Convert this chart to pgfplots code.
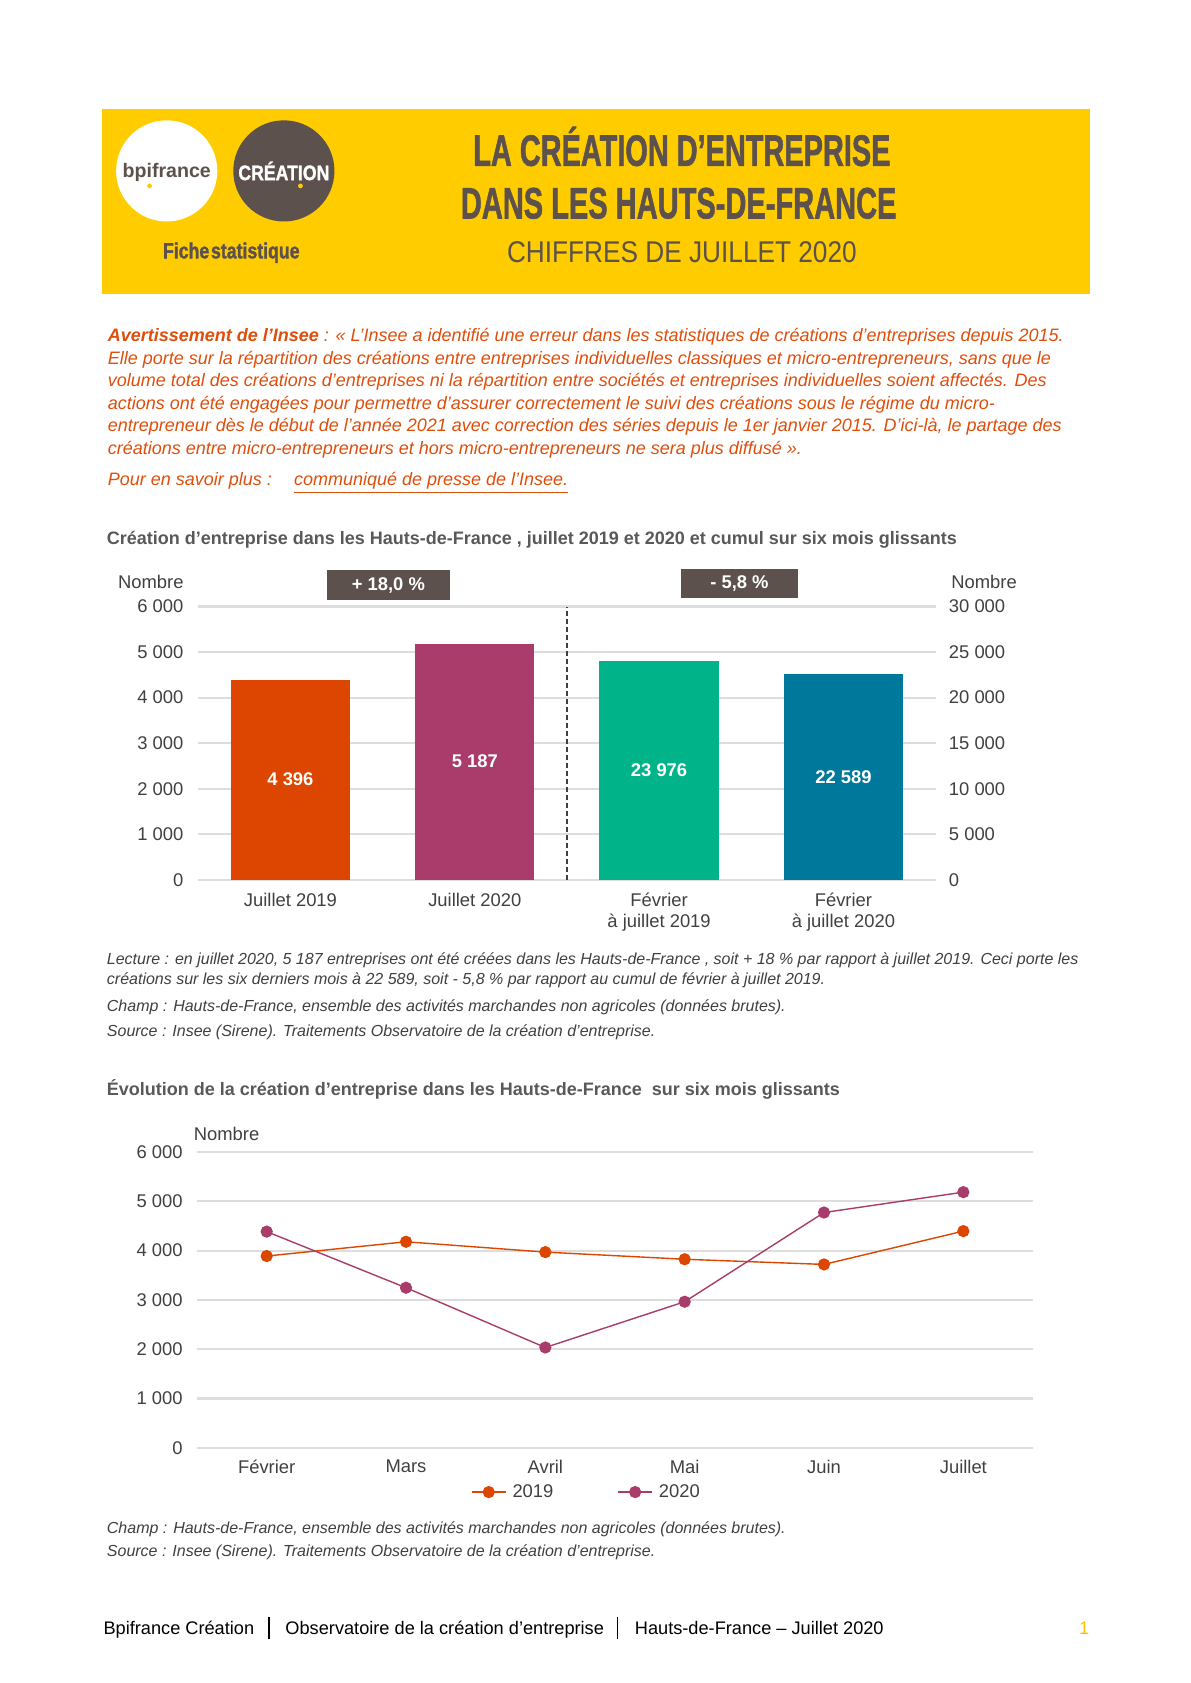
\documentclass[border=0pt]{standalone}
\usepackage{fontspec}
\setmainfont{Liberation Sans}
\newfontfamily\heavy{Liberation Sans}[FakeBold=1.5]
\usepackage{graphicx}
\usepackage{pgfplots}
\pgfplotsset{compat=1.18}

\definecolor{jaune}{HTML}{FFCC00}
\definecolor{brun}{HTML}{5C514D}
\definecolor{avert}{HTML}{E04E0B}
\definecolor{titre}{HTML}{595959}
\definecolor{texte}{HTML}{404040}
\definecolor{grille}{HTML}{DDDDDD}
\definecolor{orangeb}{HTML}{DC4600}
\definecolor{prune}{HTML}{A93C6A}
\definecolor{vert}{HTML}{00B388}
\definecolor{bleu}{HTML}{00789C}
\definecolor{un}{HTML}{FFC000}

\newcommand\fs[2]{\fontsize{#1}{#2}\selectfont}

% common look of the two charts
\pgfplotsset{
  fiche/.style={
    scale only axis,
    axis line style={draw=none},
    tick style={draw=none},
    ymajorgrids,
    grid style={grille, line width=1.1pt},
    ticklabel style={text=texte, font=\fs{9.2}{10.8}, inner sep=0pt},
    scaled y ticks=false,
    clip=false,
  },
}

\begin{document}
\begin{tikzpicture}
\path[use as bounding box, fill=white] (0,0) rectangle (595.3pt,-841.9pt);

% ---- banner
\fill[jaune] (51.1pt,-54.3pt) rectangle (545pt,-146.9pt);
\fill[white] (83.4pt,-85.5pt) circle (25.3pt);
\fill[brun] (142pt,-85.5pt) circle (25.3pt);
\node[text=brun, inner sep=0] at (83.4pt,-86.5pt) {\fs{9.8}{9.8}\bfseries bpifrance};
\fill[jaune] (74.8pt,-93pt) circle (1.2pt);
\node[text=white, inner sep=0] at (142pt,-85.5pt) {\resizebox{45.5pt}{\height}{\heavy\bfseries\fs{10.5}{10.5}CRÉATION}};
\fill[jaune] (150.3pt,-93pt) circle (1.2pt);
\node[text=brun, inner sep=0] at (115.7pt,-126.4pt) {\resizebox{68.3pt}{\height}{\heavy\bfseries\fs{11}{11}Fiche\hspace{0.1em}statistique}};
\node[text=brun, inner sep=0] at (341.1pt,-73.3pt) {\resizebox{208.7pt}{\height}{\heavy\bfseries\fs{22}{22}LA CRÉATION D’ENTREPRISE}};
\node[text=brun, inner sep=0] at (339.5pt,-101.7pt) {\resizebox{217.9pt}{\height}{\heavy\bfseries\fs{22}{22}DANS LES HAUTS-DE-FRANCE}};
\node[text=brun, inner sep=0] at (341.1pt,-126.4pt) {\resizebox{174.9pt}{\height}{\fs{15}{15}CHIFFRES DE JUILLET 2020}};

% ---- warning
\begin{scope}[every node/.style={anchor=base west, inner sep=0, text=avert, font=\itshape\fs{9.0}{11.3}}]
\node at (53.8pt,-170.9pt) {\textbf{Avertissement de l'Insee} : «~L’Insee a identifié une erreur dans les statistiques de créations d’entreprises depuis 2015.};
\node at (53.8pt,-182.2pt) {Elle porte sur la répartition des créations entre entreprises individuelles classiques et micro-entrepreneurs, sans que le};
\node at (53.8pt,-193.5pt) {volume total des créations d’entreprises ni la répartition entre sociétés et entreprises individuelles soient affectés. Des};
\node at (53.8pt,-204.8pt) {actions ont été engagées pour permettre d’assurer correctement le suivi des créations sous le régime du micro-};
\node at (53.8pt,-216.1pt) {entrepreneur dès le début de l’année 2021 avec correction des séries depuis le 1er janvier 2015. D’ici-là, le partage des};
\node at (53.8pt,-227.4pt) {créations entre micro-entrepreneurs et hors micro-entrepreneurs ne sera plus diffusé~».};
\node at (53.8pt,-242.9pt) {Pour en savoir plus :};
\node at (146.9pt,-242.9pt) {\underline{communiqué de presse de l'Insee.}};
\end{scope}

% ---- first chart
\node[anchor=base west, inner sep=0, text=titre, font=\bfseries\fs{9}{11}] at (53.3pt,-272.2pt)
  {Création d’entreprise dans les Hauts-de-France , juillet 2019 et 2020 et cumul sur six mois glissants};

\begin{axis}[fiche,
  at={(99.2pt,-440.1pt)}, anchor=south west,
  width=368.8pt, height=136.7pt,
  xmin=-0.5, xmax=3.5, ymin=0, ymax=6000,
  ytick={0,1000,2000,3000,4000,5000,6000},
  yticklabels={0,1~000,2~000,3~000,4~000,5~000,6~000},
  yticklabel style={anchor=east, xshift=-7.3pt},
  xtick={0,1,2,3},
  xticklabels={Juillet 2019,Juillet 2020,{Février\\à juillet 2019},{Février\\à juillet 2020}},
  xticklabel style={align=center, anchor=north, yshift=-6.3pt},
]
\addplot[ybar, bar width=59.7pt, bar shift=0pt, fill=orangeb, draw=none] coordinates {(0,4396)};
\addplot[ybar, bar width=59.7pt, bar shift=0pt, fill=prune, draw=none] coordinates {(1,5187)};
\addplot[draw=none, mark=none, nodes near coords, point meta=explicit symbolic,
  every node near coord/.style={anchor=center, text=white, font=\bfseries\fs{9.2}{9.2}}]
  coordinates {(0,2198) [4 396] (1,2593.5) [5 187]};
\draw[texte, dash pattern=on 2.5pt off 1.5pt, line width=0.6pt] (axis cs:1.5,0) -- (axis cs:1.5,6000);
\end{axis}

\begin{axis}[fiche,
  at={(99.2pt,-440.1pt)}, anchor=south west,
  width=368.8pt, height=136.7pt,
  xmin=-0.5, xmax=3.5, ymin=0, ymax=30000,
  ymajorgrids=false,
  ytick={0,5000,10000,15000,20000,25000,30000},
  yticklabels={0,5~000,10~000,15~000,20~000,25~000,30~000},
  yticklabel pos=right,
  yticklabel style={anchor=west, xshift=6.5pt},
  xtick=\empty,
]
\addplot[ybar, bar width=59.7pt, bar shift=0pt, fill=vert, draw=none] coordinates {(2,23976)};
\addplot[ybar, bar width=59.7pt, bar shift=0pt, fill=bleu, draw=none] coordinates {(3,22589)};
\addplot[draw=none, mark=none, nodes near coords, point meta=explicit symbolic,
  every node near coord/.style={anchor=center, text=white, font=\bfseries\fs{9.2}{9.2}}]
  coordinates {(2,11988) [23 976] (3,11294.5) [22 589]};
\end{axis}

\node[anchor=east, inner sep=0, text=texte, font=\fs{9.2}{10.8}] at (92pt,-291.1pt) {Nombre};
\node[anchor=west, inner sep=0, text=texte, font=\fs{9.2}{10.8}] at (475.7pt,-291.1pt) {Nombre};
\node[fill=brun, text=white, minimum width=61.3pt, minimum height=15.1pt, inner sep=0,
  font=\bfseries\fs{9.2}{9.2}] at (194.25pt,-292.65pt) {+ 18,0 \%};
\node[fill=brun, text=white, minimum width=58.6pt, minimum height=14.5pt, inner sep=0,
  font=\bfseries\fs{9.2}{9.2}] at (369.9pt,-291.85pt) {- 5,8 \%};

\begin{scope}[every node/.style={anchor=base west, inner sep=0, text=texte, font=\itshape\fs{8}{10}}]
\node at (53.3pt,-482.3pt) {Lecture : en juillet 2020, 5 187 entreprises ont été créées dans les Hauts-de-France , soit + 18 \% par rapport à juillet 2019. Ceci porte les};
\node at (53.3pt,-492.5pt) {créations sur les six derniers mois à 22 589, soit - 5,8 \% par rapport au cumul de février à juillet 2019.};
\node at (53.3pt,-505.9pt) {Champ : Hauts-de-France, ensemble des activités marchandes non agricoles (données brutes).};
\node at (53.3pt,-518.3pt) {Source : Insee (Sirene). Traitements Observatoire de la création d’entreprise.};
\end{scope}

% ---- second chart
\node[anchor=base west, inner sep=0, text=titre, font=\bfseries\fs{9}{11}] at (53.3pt,-548.2pt)
  {Évolution de la création d’entreprise dans les Hauts-de-France\ \ sur six mois glissants};

\begin{axis}[fiche,
  at={(98.55pt,-724.2pt)}, anchor=south west,
  width=418.2pt, height=147.9pt,
  xmin=-0.5, xmax=5.5, ymin=0, ymax=6000,
  ytick={0,1000,2000,3000,4000,5000,6000},
  yticklabels={0,1~000,2~000,3~000,4~000,5~000,6~000},
  yticklabel style={anchor=east, xshift=-7pt},
  xtick={0,1,2,3,4,5},
  xticklabels={Février,Mars,Avril,Mai,Juin,Juillet},
  xticklabel style={anchor=north, yshift=-6pt},
  legend columns=2,
  legend style={at={(0.467,-0.150)}, anchor=center, draw=none, fill=none,
    font=\fs{9.2}{10.8}, text=texte,
    /tikz/every odd column/.append style={column sep=1pt},
    /tikz/every even column/.append style={column sep=30pt}},
]
\addplot[orangeb, line width=0.7pt, mark=*, mark size=2.7pt, mark options={fill=orangeb, draw=orangeb}]
  coordinates {(0,3890) (1,4180) (2,3970) (3,3825) (4,3720) (5,4396)};
\addplot[prune, line width=0.7pt, mark=*, mark size=2.7pt, mark options={fill=prune, draw=prune}]
  coordinates {(0,4386) (1,3247) (2,2034) (3,2963) (4,4773) (5,5187)};
\legend{2019,2020}
\end{axis}

\node[anchor=west, inner sep=0, text=texte, font=\fs{9.2}{10.8}] at (96.8pt,-567.1pt) {Nombre};

\begin{scope}[every node/.style={anchor=base west, inner sep=0, text=texte, font=\itshape\fs{8}{10}}]
\node at (53.3pt,-766.9pt) {Champ : Hauts-de-France, ensemble des activités marchandes non agricoles (données brutes).};
\node at (53.3pt,-778.7pt) {Source : Insee (Sirene). Traitements Observatoire de la création d’entreprise.};
\end{scope}

% ---- footer
\begin{scope}[every node/.style={anchor=base west, inner sep=0, text=black, font=\fs{9.1}{11}}]
\node at (51.6pt,-817.7pt) {Bpifrance Création};
\node at (142.6pt,-817.7pt) {Observatoire de la création d’entreprise};
\node at (317.4pt,-817.7pt) {Hauts-de-France – Juillet 2020};
\end{scope}
\fill[black] (134.1pt,-809.1pt) rectangle (134.9pt,-819.9pt);
\fill[black] (308.4pt,-809.1pt) rectangle (309.2pt,-819.9pt);
\node[text=un, inner sep=0, font=\fs{9.1}{11}] at (542.3pt,-814.5pt) {1};
\end{tikzpicture}
\end{document}
